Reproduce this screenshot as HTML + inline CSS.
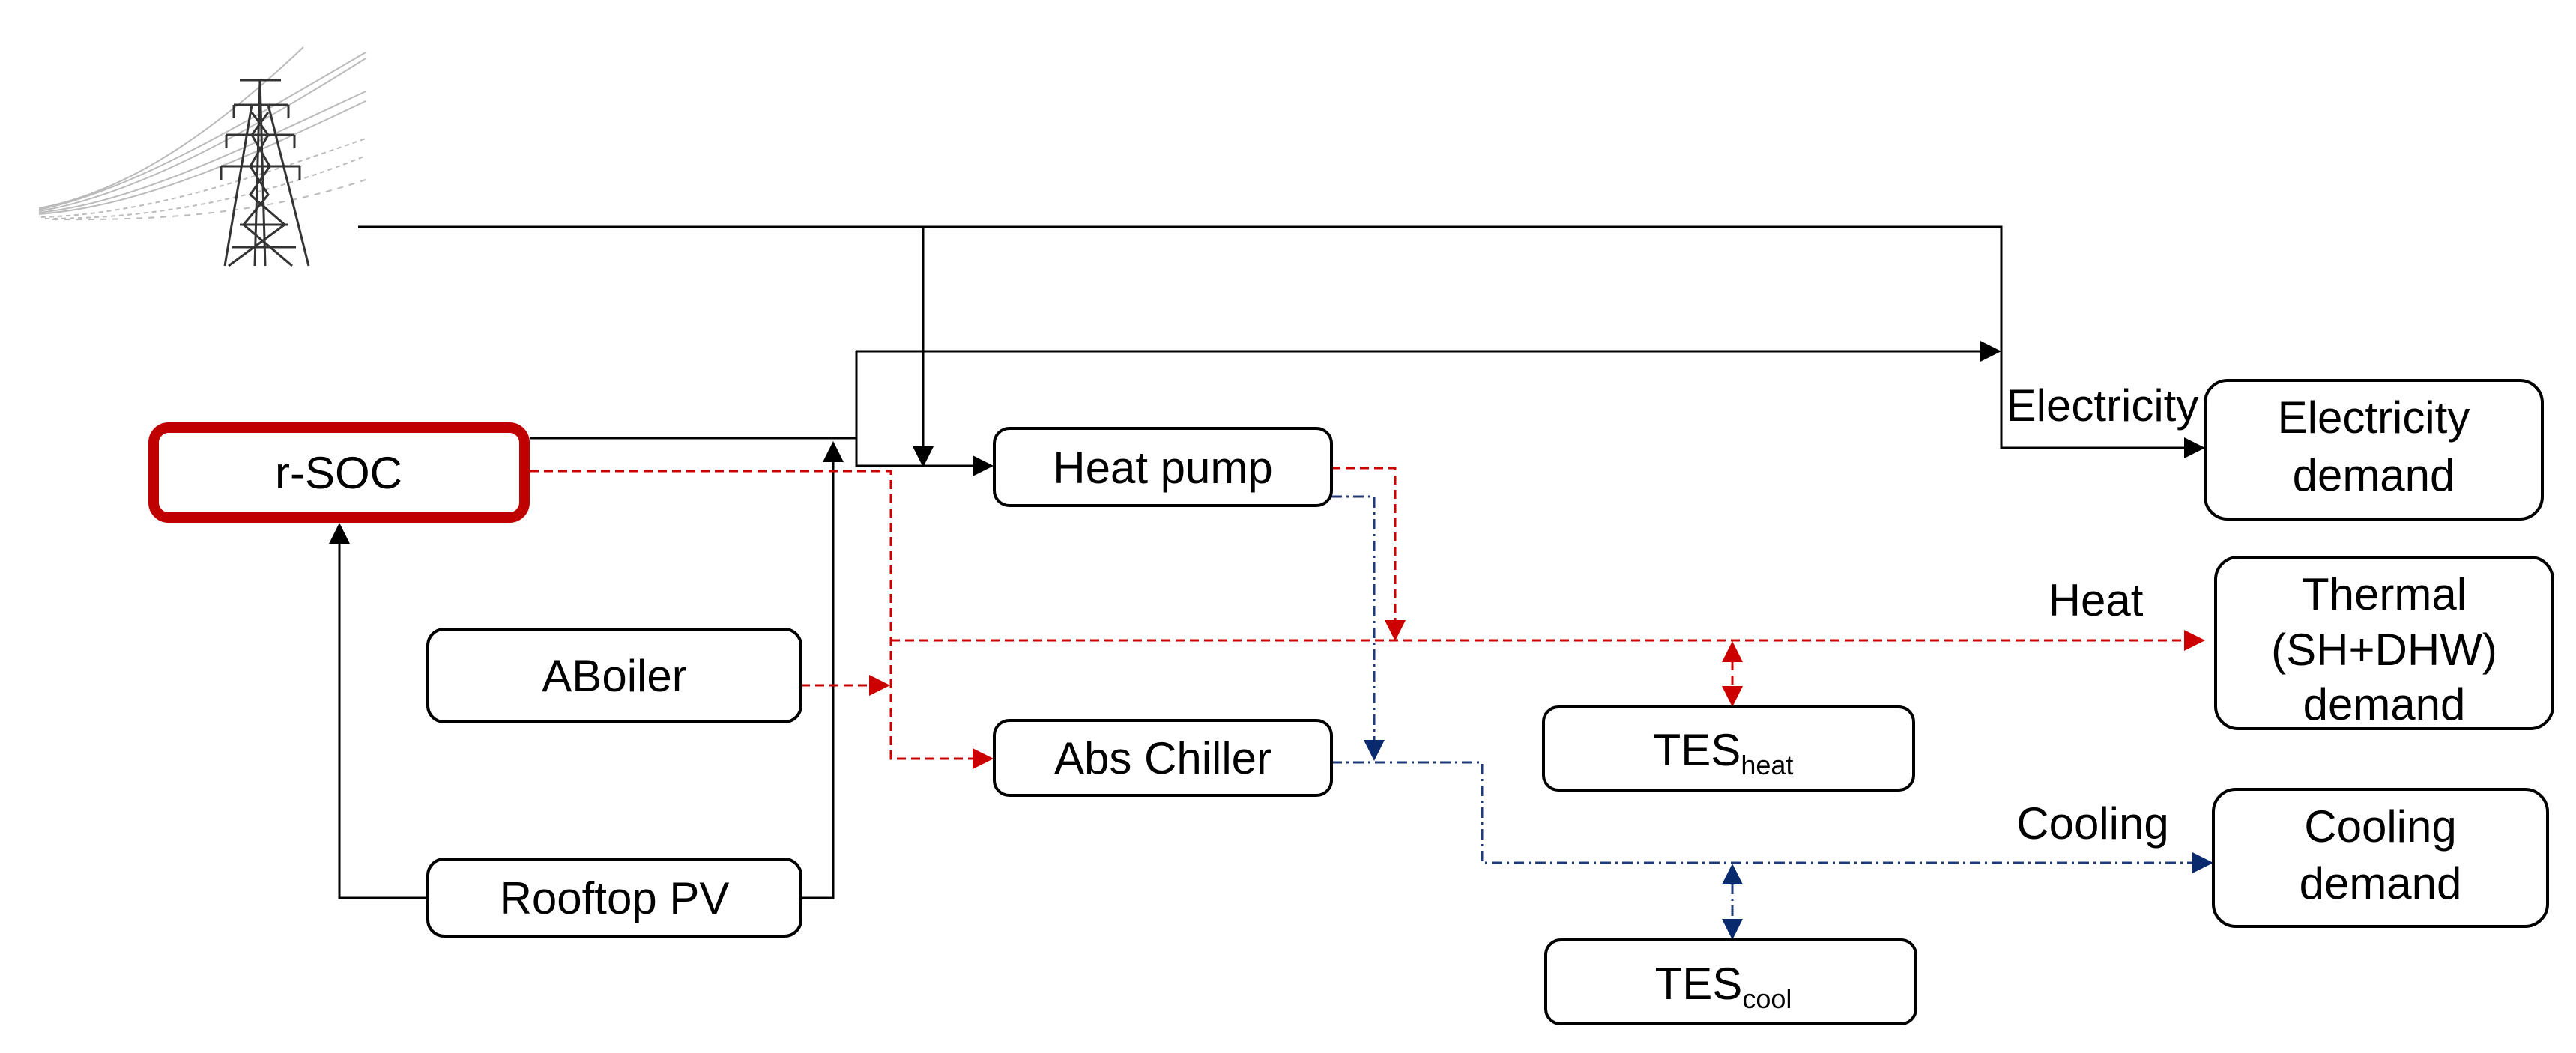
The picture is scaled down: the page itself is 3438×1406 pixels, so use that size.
<!DOCTYPE html>
<html><head><meta charset="utf-8"><style>
html,body{margin:0;padding:0;background:#fff;}
svg{display:block;}
text{font-family:"Liberation Sans",Arial,sans-serif;fill:#000;}
</style></head><body>
<svg width="3438" height="1406" viewBox="0 0 3438 1406" xmlns="http://www.w3.org/2000/svg">
<!-- tower -->
<g stroke="#bbb" stroke-width="2" fill="none">
<path d="M52,278 C150,260 260,200 405,63"/>
<path d="M52,280 C170,255 300,180 488,70"/>
<path d="M52,282 C170,262 310,190 488,78"/>
<path d="M52,284 C180,270 320,200 488,122"/>
<path d="M52,286 C190,275 330,210 488,135"/>
<path d="M55,290 C200,285 330,240 488,185" stroke-dasharray="6 5"/>
<path d="M60,292 C220,292 360,260 488,208" stroke-dasharray="6 5"/>
<path d="M70,293 C240,295 370,280 488,240" stroke-dasharray="8 8"/>
</g>
<g stroke="#333" stroke-width="3" fill="none">
<path d="M320,107 L375,107 M347,107 L340,355 M347,107 L354,355 M336,140 L300,355 M358,140 L412,355"/>
<path d="M312,140 L385,140 M302,180 L393,180 M295,222 L400,222"/>
<path d="M312,140 L312,158 M385,140 L385,158 M302,180 L302,198 M393,180 L393,198 M295,222 L295,240 M400,222 L400,240"/>
<path d="M336,150 L358,180 L334,222 L358,260 L325,300 L390,355 M358,150 L336,180 L360,222 L334,260 L380,300 L305,355 M320,300 L385,300 M310,330 L395,330"/>
</g>
<!-- black lines -->
<g stroke="#000" stroke-width="3" fill="none">
<path d="M478,303 H2671 V598 H2915"/>
<path d="M1232,303 V596"/>
<path d="M1143,469 H2643"/>
<path d="M1143,469 V622"/>
<path d="M707,585 H1143 V622 H1298"/>
<path d="M570,1199 H453 V726"/>
<path d="M1069,1199 H1112 V617"/>
</g>
<g fill="#000">
<polygon points="2671,469 2643,455 2643,483"/>
<polygon points="2943,598 2915,584 2915,612"/>
<polygon points="1232,624 1218,596 1246,596"/>
<polygon points="1326,622 1298,608 1298,636"/>
<polygon points="453,698 439,726 467,726"/>
<polygon points="1112,589 1098,617 1126,617"/>
</g>
<!-- red dashed -->
<g stroke="#cc0000" stroke-width="3" fill="none" stroke-dasharray="12 7">
<path d="M707,629 H1189 V1013 H1298"/>
<path d="M1069,915 H1160"/>
<path d="M1189,855 H2915"/>
<path d="M1777,625 H1862 V828"/>
<path d="M2312,883 V916"/>
</g>
<g fill="#cc0000">
<polygon points="1326,1013 1298,999 1298,1027"/>
<polygon points="1188,915 1160,901 1160,929"/>
<polygon points="2943,855 2915,841 2915,869"/>
<polygon points="1862,856 1848,828 1876,828"/>
<polygon points="2312,856 2298,884 2326,884"/>
<polygon points="2312,944 2298,916 2326,916"/>
</g>
<!-- blue dash-dot -->
<g stroke="#1f3a7a" stroke-width="3" fill="none" stroke-dasharray="14 6 3 6">
<path d="M1777,663 H1834 V988"/>
<path d="M1777,1018 H1978 V1152 H2926"/>
<path d="M2312,1180 V1227"/>
</g>
<g fill="#0a2a6e">
<polygon points="1834,1016 1820,988 1848,988"/>
<polygon points="2954,1152 2926,1138 2926,1166"/>
<polygon points="2312,1153 2298,1181 2326,1181"/>
<polygon points="2312,1255 2298,1227 2326,1227"/>
</g>
<!-- boxes -->
<g fill="#fff" stroke="#000" stroke-width="4">
<rect x="571" y="840" width="498" height="124" rx="22"/>
<rect x="571" y="1147" width="498" height="103" rx="22"/>
<rect x="1327" y="572" width="450" height="103" rx="20"/>
<rect x="1327" y="962" width="450" height="100" rx="20"/>
<rect x="2060" y="944" width="494" height="111" rx="20"/>
<rect x="2063" y="1255" width="494" height="112" rx="20"/>
<rect x="2943" y="508" width="450" height="185" rx="30"/>
<rect x="2957" y="744" width="450" height="229" rx="30"/>
<rect x="2954" y="1054" width="446" height="183" rx="30"/>
</g>
<rect x="205" y="571" width="495" height="120" rx="20" fill="#fff" stroke="#c00000" stroke-width="14"/>
<g font-size="60" text-anchor="middle">
<text x="452" y="652">r-SOC</text>
<text x="820" y="923">ABoiler</text>
<text x="820" y="1220">Rooftop PV</text>
<text x="1552" y="645">Heat pump</text>
<text x="1552" y="1033">Abs Chiller</text>
<text x="2300" y="1022">TES<tspan font-size="36" dy="12">heat</tspan></text>
<text x="2300" y="1334">TES<tspan font-size="36" dy="12">cool</tspan></text>
<text x="3168" y="578">Electricity</text>
<text x="3168" y="655">demand</text>
<text x="3182" y="814">Thermal</text>
<text x="3182" y="888">(SH+DHW)</text>
<text x="3182" y="961">demand</text>
<text x="3177" y="1124">Cooling</text>
<text x="3177" y="1200">demand</text>
<text x="2806" y="562">Electricity</text>
<text x="2797" y="822">Heat</text>
<text x="2793" y="1120">Cooling</text>
</g>
</svg>
</body></html>
